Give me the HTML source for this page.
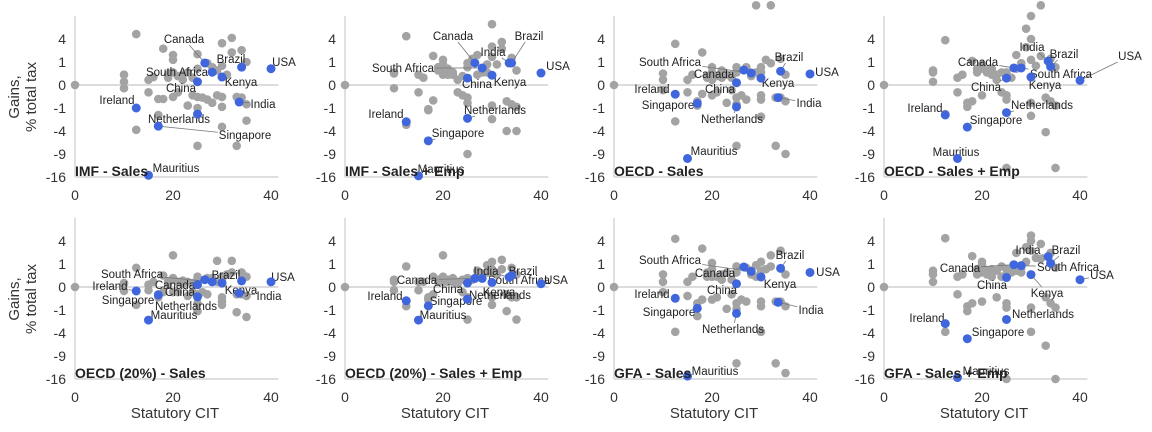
<!DOCTYPE html>
<html><head><meta charset="utf-8"><style>
html,body{margin:0;padding:0;background:#fff;}
svg{display:block;font-family:"Liberation Sans",Arial,sans-serif;}
</style></head><body>
<svg id="chart" width="1152" height="432" viewBox="0 0 1152 432" xmlns="http://www.w3.org/2000/svg"></svg>
<script>
const panelTitles = ["IMF - Sales","IMF - Sales + Emp","OECD - Sales","OECD - Sales + Emp","OECD (20%) - Sales","OECD (20%) - Sales + Emp","GFA - Sales","GFA - Sales + Emp"];
const yTickValues = [4,1,0,-1,-4,-9,-16];
const xTickValues = [0,20,40];
const countries = ["Canada","Brazil","USA","South Africa","Kenya","China","India","Ireland","Netherlands","Singapore","Mauritius"];
const countryCIT = [26.5,34,40,28,30,25,33.5,12.5,25,17,15];
const hlP1 = [0.92,0.6,0.5,0.31,0.12,0.02,-0.55,-1,-1.6,-3.2,-15.4];
const hlP2 = [0.92,0.92,0.27,0.55,0.18,0.09,0.92,-2.56,-2.1,-5.9,-15.6];
const hlP3 = [0.42,0.36,0.23,0.27,0.09,0.01,-0.3,-0.16,-0.9,-0.64,-10.2];
const hlP4 = [0.55,0.64,0.04,0.55,0.12,0.09,1.08,-1.7,-1.44,-3.35,-10.2];
const hlP5 = [0.1,0.07,0.05,0.05,0.03,0.01,-0.07,-0.03,-0.18,-0.12,-2.07];
const hlP6 = [0.14,0.25,0.02,0.14,0.04,0.03,0.18,-0.36,-0.28,-0.67,-2.07];
const hlP7 = [0.76,0.66,0.4,0.46,0.19,0.02,-0.44,-0.24,-1.32,-0.86,-15];
const hlP8 = [0.94,1.06,0.1,0.86,0.29,0.17,1.74,-2.53,-1.99,-5.06,-15.5];
const otherCIT = [0,10,10,10,12.5,12.5,15,15,16,17,17,18,18,19,19,20,20,20,20,21,21,22,22,23,23,24,24,25,25,25,25,25,26,27,27,28,28,29,29,30,30,30,30,30,31,32,32,33,33,34,34,35,35,35];
const grayP1 = [0,0.2,0.02,-0.02,4.9,-3.8,0.05,-0.1,0.12,-0.37,-1.7,2.5,-0.37,0.1,0.2,1.7,1.2,-0.27,0.3,0.15,-0.1,0.2,0.05,-0.8,0.3,0.1,-0.2,1.8,-1,-0.27,-7,0.5,-0.3,0.9,-0.4,-0.6,0.6,0.4,-0.2,3.3,-0.27,-0.9,-3.3,0.7,0.2,4.2,2,-0.27,-7,2.3,-0.3,1,-0.7,-2.4];
const grayP2 = [0,0.3,-0.02,0.25,4.5,-3,0.2,-0.1,0.1,-1.1,-1.2,1.6,-0.45,0.4,0.6,1.2,0.8,0.2,0.4,0.2,0.5,0.2,0.3,0.05,-0.1,0.15,-0.2,0.9,-0.6,-0.3,-9,0.6,1.3,1.7,0.2,0.3,0.5,0.8,0.3,7,2.8,-2.2,-0.8,1.5,0.8,3.5,2.5,-0.5,-4,1.4,-0.7,0.4,-0.9,-4];
const grayP3 = [0,0.25,0.05,-0.05,3.2,-2.5,0.05,-0.1,0.2,-0.5,-0.8,2,-0.15,0.1,0.15,0.6,0.3,-0.2,0.05,0.15,-0.1,0.4,0.1,-0.6,0.2,0.1,-0.05,0.6,-0.3,-0.7,-7,0.3,-0.2,0.6,-0.4,0.15,0.2,12,0.3,0.6,-0.2,-0.4,-1.9,0.3,1.2,12,0.9,-0.3,-7,1.3,-0.3,0.2,-0.5,-9];
const grayP4 = [0,0.4,0.02,0.3,3.8,-1.6,0.1,-0.1,0.2,-0.6,-0.9,1.1,-0.5,0.5,0.3,0.8,0.5,-0.2,0.6,0.3,0.4,0.5,0.2,0.2,0.05,0.3,-0.1,0.3,-0.2,-0.4,-13,0.2,0.1,1.7,0.5,0.8,0.9,6,2.7,9,4,-1.8,-0.6,1.2,0.7,12,1.6,-0.3,-4.2,1.3,-0.5,0.6,-0.8,-13];
const grayP5 = [0,0.03,-0.03,0.02,0.7,-0.6,0.01,-0.02,0.05,-0.1,-0.2,0.25,-0.05,0.02,0.05,1.9,0.15,-0.05,0.1,0.05,-0.05,0.08,0.02,-0.15,0.05,0.03,-0.05,0.2,-1.1,-0.1,-0.5,0.1,-0.05,0.15,-0.1,0.05,0.15,1.3,0.05,0.2,-0.2,-0.4,-0.6,0.1,0.3,1.3,0.4,-0.1,-1.2,0.4,-0.1,0.2,-0.15,-1.7];
const grayP6 = [0,0.1,-0.02,0.05,0.8,-0.7,0.05,-0.02,0.05,-0.2,-0.3,0.2,-0.1,0.05,0.1,1.9,0.2,0.05,0.15,0.1,0.05,0.15,0.05,0.05,0.02,0.1,-0.05,0.15,-0.3,-0.2,-2,0.1,0.1,0.5,0.2,0.3,0.35,0.9,0.4,1.2,0.6,-0.6,-0.2,0.4,0.3,1.4,0.6,-0.1,-1.1,0.7,-0.2,0.3,-0.2,-2];
const grayP7 = [0,0.3,0.05,-0.05,4.4,-3.8,0.05,-0.15,0.2,-0.5,-1.6,2.8,-0.3,0.2,0.4,1.1,0.6,-0.3,0.2,0.2,-0.2,0.3,0.1,-0.9,0.4,0.1,-0.1,0.8,-0.5,-0.9,-11,0.4,-0.3,0.7,-0.4,0.3,0.5,0.2,0.9,1.2,-0.4,-0.7,-3.8,0.5,0.6,1.9,0.8,-0.4,-11,2.5,-0.4,0.3,-0.7,-14];
const grayP8 = [0,0.3,0.05,0.5,4.5,-3.8,0.2,-0.1,0.3,-0.7,-1.1,1.8,-0.5,0.6,0.3,1.2,0.9,-0.4,0.4,0.5,0.3,0.6,0.2,-0.2,0.5,0.8,0.2,0.3,-0.5,-0.8,-16,0.6,0.4,2.2,0.5,0.7,0.4,3,1.2,5,4,-0.8,-3.8,2.5,1.6,3.5,1.5,-0.2,-6.5,2.2,-0.5,0.7,-0.8,-16];
const highlightSeries = [hlP1,hlP2,hlP3,hlP4,hlP5,hlP6,hlP7,hlP8];
const graySeries = [grayP1,grayP2,grayP3,grayP4,grayP5,grayP6,grayP7,grayP8];

// layout (not data)
const panelOriginX = [75,345,614,884,75,345,614,884];
const panelZeroY = [85,85,85,85,287,287,287,287];
const labelPos = [
 [[184,39],[231,59],[284,62],[177,72],[241,82],[181,88],[263,104],[117,100],[179,119],[245,135],[176,168]],
 [[453,36],[529,36],[558,66],[403,68],[510,82],[477,84],[493,52],[386,114],[495,110],[458,133],[441,169]],
 [[714,74],[789,57],[827,72],[670,62],[778,83],[720,89],[809,103],[652,89],[732,119],[668,105],[714,151]],
 [[978,62],[1064,54],[1130,56],[1061,74],[1045,85],[986,87],[1032,47],[925,108],[1042,105],[996,120],[956,152]],
 [[175,285],[226,275],[283,277],[132,274],[241,290],[180,292],[269,296],[110,286],[186,306],[128,300],[174,315]],
 [[417,280],[523,271],[556,280],[519,280],[499,292],[448,289],[486,271],[385,296],[500,295],[456,301],[443,315]],
 [[715,273],[790,255],[828,272],[670,260],[780,284],[722,290],[811,310],[652,294],[733,329],[669,312],[715,371]],
 [[960,268],[1066,250],[1102,275],[1068,267],[1047,293],[992,285],[1028,250],[927,318],[1043,314],[998,332],[986,371]]
];

const NS="http://www.w3.org/2000/svg";
const svg=document.getElementById('chart');
const PX=4.9, SY=23;
function mk(tag,attrs,parent){const e=document.createElementNS(NS,tag);for(const k in attrs)e.setAttribute(k,attrs[k]);(parent||svg).appendChild(e);return e;}
function sq(v){return Math.sign(v)*Math.sqrt(Math.abs(v));}
function xScale(p,v){return panelOriginX[p]+v*PX;}
function yScale(p,v){return panelZeroY[p]-sq(v)*SY;}

for(let p=0;p<8;p++){
  const g=mk('g',{});
  
  
  const x0=panelOriginX[p], z=panelZeroY[p], top=z-3*SY, bot=z+4*SY, right=x0+41.5*PX;
  const zl=mk('line',{x1:x0,x2:right,y1:z,y2:z,stroke:'#dcdcdc','stroke-width':2},g);
  
  
  const ys=mk('line',{x1:x0,x2:x0,y1:top,y2:bot,stroke:'#cccccc','stroke-width':1.2},g);
  
  
  const xs=mk('line',{x1:x0,x2:right,y1:bot,y2:bot,stroke:'#cccccc','stroke-width':1.2},g);
  
  
  yTickValues.forEach(v=>{
    const t=mk('text',{x:x0-9,y:yScale(p,v)+5,'text-anchor':'end','font-size':14,fill:'#333'},g);
    
    
    t.textContent=v;
  });
  xTickValues.forEach(v=>{
    const t=mk('text',{x:xScale(p,v),y:bot+23,'text-anchor':'middle','font-size':14,fill:'#333'},g);
    
    
    t.textContent=v;
  });
  const gs=graySeries[p];
  otherCIT.forEach((cx,i)=>{
    const c=mk('circle',{cx:xScale(p,cx),cy:yScale(p,gs[i]),r:4.3,fill:'#a3a3a3'},g);
    
    
  });
  const hs=highlightSeries[p];
  countries.forEach((name,i)=>{
    const px=xScale(p,countryCIT[i]), py=yScale(p,hs[i]);
    const [lx,ly]=labelPos[p][i];
    const t=mk('text',{x:lx,y:ly+4,'text-anchor':'middle','font-size':11.5,fill:'#222'},g);
    
    
    t.textContent=name;
    const bb=t.getBBox();
    const dx=px-lx, dy=py-ly;
    const hw=bb.width/2+1, hh=bb.height/2;
    let tt=1;
    if(dx!==0) tt=Math.min(tt,hw/Math.abs(dx));
    if(dy!==0) tt=Math.min(tt,hh/Math.abs(dy));
    const sx=lx+dx*tt, sy=ly+dy*tt;
    if(Math.hypot(px-sx,py-sy)>6){
      const l=mk('line',{x1:sx,y1:sy,x2:px,y2:py,stroke:'#777','stroke-width':0.8},g);
      
      
      g.insertBefore(l,t);
    }
  });
  countries.forEach((name,i)=>{
    const c=mk('circle',{cx:xScale(p,countryCIT[i]),cy:yScale(p,hs[i]),r:4.5,fill:'#3f66dd'},g);
    
    
  });
  const ttl=mk('text',{x:x0,y:bot-1,'font-size':14,'font-weight':'bold',fill:'#222'},g);
  
  
  ttl.textContent=panelTitles[p];
}
[97,299].forEach(cy=>{
  const t=mk('text',{transform:'translate(24,'+cy+') rotate(-90)','text-anchor':'middle','font-size':15,fill:'#333'});
  
  
  const a=mk('tspan',{x:0,y:-5},t); a.textContent='Gains,';
  const b=mk('tspan',{x:0,y:12},t); b.textContent='% total tax';
});
[75,345,614,884].forEach(x0=>{
  const t=mk('text',{x:x0+100,y:418,'text-anchor':'middle','font-size':15,fill:'#333'});
  
  
  t.textContent='Statutory CIT';
});
</script>
</body></html>
